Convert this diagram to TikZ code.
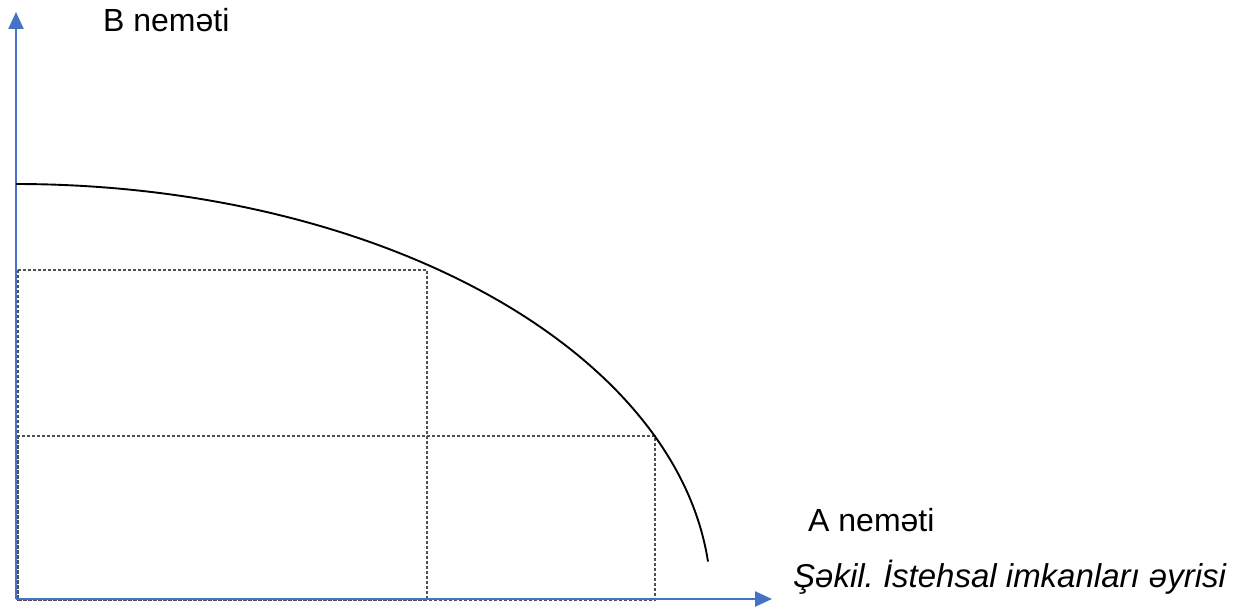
\documentclass[tikz,border=0pt]{standalone}
\usepackage{fontspec}
\setmainfont{Liberation Sans}
\usetikzlibrary{arrows.meta}
\definecolor{axisblue}{RGB}{68,114,196}
\definecolor{guidegray}{RGB}{80,80,80}
\tikzset{
  axisline/.style={draw=axisblue, line width=2.4pt, -{Triangle[length=17pt,width=15pt]}},
  ppf/.style={draw=black, line width=1.9pt},
  guide/.style={draw=guidegray, line width=1.1pt, dash pattern=on 3pt off 2pt},
  axlabel/.style={font=\fontsize{32}{38}\selectfont, inner sep=0pt, anchor=base west},
  caption/.style={font=\fontsize{33}{39}\selectfont\itshape, inner sep=0pt, anchor=base west},
}
\frenchspacing
\begin{document}
\begin{tikzpicture}[x=1pt,y=-1pt]
  \useasboundingbox (0,0) rectangle (1242,610);
  % axes
  \coordinate (origin) at (16,599);
  \coordinate (ytop) at (16,12);
  \coordinate (xend) at (772,599);
  % dotted guides under the curve
  \draw[guide] (18,270) rectangle (427,600);
  \draw[guide] (18,436) rectangle (655,600);
  \draw[axisline] (origin) -- (ytop);
  \draw[axisline] (origin) -- (xend);
  % production possibilities curve
  \draw[ppf] plot[domain=0:84.7, samples=80, smooth] ({16+695*sin(\x)}, {600-416*cos(\x)});
  \node[axlabel] (blabel) at (103,32) {B neməti};
  \node[axlabel] (alabel) at (808,531) {A neməti};
  \node[caption] (cap) at (793,587) {Şəkil.\ İstehsal imkanları əyrisi};
\end{tikzpicture}
\end{document}
